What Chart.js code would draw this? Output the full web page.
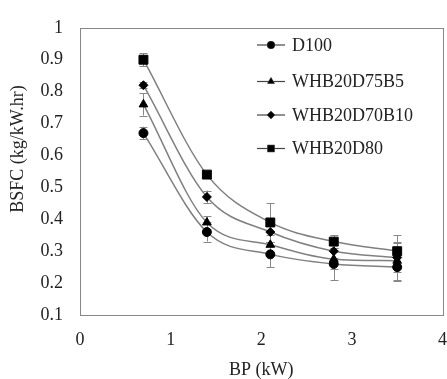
<!DOCTYPE html>
<html lang="en">
<head>
    <meta charset="UTF-8">
    <title>BSFC vs BP</title>
    <script src="https://cdn.jsdelivr.net/npm/chart.js"></script>
    <style>
        body {
            margin: 0;
            padding: 0;
            background: white;
            overflow: hidden;
        }
        #chart {
            display: block;
        }
    </style>
</head>
<body>
    <canvas id="chart" width="461" height="379"></canvas>

    <script>
        // brake power (kW)
        const bp = [0.7, 1.4, 2.1, 2.8, 3.5];

        // BSFC (kg/kW.hr) per fuel blend
        const d100     = [0.67, 0.36, 0.29, 0.26, 0.25];
        const whb75b5  = [0.76, 0.39, 0.32, 0.275, 0.27];
        const whb70b10 = [0.82, 0.47, 0.36, 0.30, 0.28];
        const whb80    = [0.90, 0.54, 0.39, 0.33, 0.30];

        // error bar half widths
        const d100Err     = [0.02, 0.03, 0.04, 0.05, 0.045];
        const whb75b5Err  = [0.035, 0.02, 0.03, 0.03, 0.06];
        const whb70b10Err = [0.01, 0.02, 0.03, 0.02, 0.045];
        const whb80Err    = [0.02, 0.01, 0.06, 0.02, 0.05];

        const seriesNames = ['D100', 'WHB20D75B5', 'WHB20D70B10', 'WHB20D80'];
        const xTicks = [0, 1, 2, 3, 4];
        const yTicks = [0.1, 0.2, 0.3, 0.4, 0.5, 0.6, 0.7, 0.8, 0.9, 1];

        const font = "'Liberation Serif', 'Times New Roman', serif";
        const textColor = '#222';
        const lineGrey = '#808080';

        function makeSet(label, values, errs, style, radius) {
            return {
                label: label,
                data: bp.map((x, i) => ({ x: x, y: values[i] })),
                errors: errs,
                borderColor: lineGrey,
                borderWidth: 1.5,
                backgroundColor: '#000',
                pointBackgroundColor: '#000',
                pointBorderColor: '#000',
                pointBorderWidth: 1,
                pointStyle: style,
                pointRadius: radius,
                cubicInterpolationMode: 'monotone',
                fill: false
            };
        }

        // frame round the plot area
        const framePlugin = {
            id: 'frame',
            beforeDatasetsDraw(chart) {
                const a = chart.chartArea;
                const ctx = chart.ctx;
                ctx.save();
                ctx.strokeStyle = '#888';
                ctx.lineWidth = 1;
                ctx.strokeRect(Math.round(a.left) + 0.5, Math.round(a.top) + 0.5,
                    Math.round(a.right - a.left), Math.round(a.bottom - a.top));
                ctx.restore();
            }
        };

        // vertical error bars with caps
        const errorBarPlugin = {
            id: 'errorBars',
            beforeDatasetsDraw(chart) {
                const ctx = chart.ctx;
                const xs = chart.scales.x, ys = chart.scales.y;
                ctx.save();
                ctx.strokeStyle = '#888';
                ctx.lineWidth = 1;
                chart.data.datasets.forEach(ds => {
                    ds.data.forEach((p, i) => {
                        const e = ds.errors[i];
                        const px = Math.round(xs.getPixelForValue(p.x)) + 0.5;
                        const top = ys.getPixelForValue(p.y + e);
                        const bot = ys.getPixelForValue(p.y - e);
                        ctx.beginPath();
                        ctx.moveTo(px, top);
                        ctx.lineTo(px, bot);
                        ctx.moveTo(px - 4, Math.round(top) + 0.5);
                        ctx.lineTo(px + 4, Math.round(top) + 0.5);
                        ctx.moveTo(px - 4, Math.round(bot) + 0.5);
                        ctx.lineTo(px + 4, Math.round(bot) + 0.5);
                        ctx.stroke();
                    });
                });
                ctx.restore();
            }
        };

        // legend inside the plot + y title placed like the original
        const legendPlugin = {
            id: 'insideLegend',
            afterDraw(chart) {
                const ctx = chart.ctx;
                ctx.save();
                ctx.font = '18px ' + font;
                ctx.fillStyle = textColor;
                ctx.textBaseline = 'middle';
                ctx.textAlign = 'left';
                const rowY = [45, 81.5, 115, 148.5];
                chart.data.datasets.forEach((ds, i) => {
                    const y = rowY[i];
                    ctx.strokeStyle = '#444';
                    ctx.lineWidth = 1.2;
                    ctx.beginPath();
                    ctx.moveTo(257, y);
                    ctx.lineTo(285, y);
                    ctx.stroke();
                    Chart.helpers.drawPoint(ctx, {
                        pointStyle: ds.pointStyle,
                        radius: ds.pointStyle === 'rect' ? 4.5 : 3.5,
                        rotation: 0,
                        borderWidth: 1
                    }, 271, y);
                    ctx.fillStyle = '#000';
                    ctx.fill();
                    ctx.fillStyle = textColor;
                    ctx.fillText(ds.label, 292, y + 1);
                });

                // y axis title
                ctx.translate(18, 149);
                ctx.rotate(-Math.PI / 2);
                ctx.textAlign = 'center';
                ctx.fillText('BSFC (kg/kW.hr)', 0, 0);
                ctx.restore();
            }
        };

        const ctx = document.getElementById('chart').getContext('2d');
        const chart = new Chart(ctx, {
            type: 'line',
            data: {
                datasets: [
                    makeSet(seriesNames[0], d100, d100Err, 'circle', 4.5),
                    makeSet(seriesNames[1], whb75b5, whb75b5Err, 'triangle', 5),
                    makeSet(seriesNames[2], whb70b10, whb70b10Err, 'rectRot', 4.5),
                    makeSet(seriesNames[3], whb80, whb80Err, 'rect', 6.3)
                ]
            },
            options: {
                responsive: false,
                animation: false,
                layout: { padding: { top: 18, left: 0, right: 0, bottom: 0 } },
                plugins: {
                    legend: { display: false },
                    tooltip: { enabled: false }
                },
                scales: {
                    x: {
                        type: 'linear',
                        min: 0,
                        max: 4,
                        afterFit(axis) { axis.height = 64; },
                        afterBuildTicks(axis) { axis.ticks = xTicks.map(v => ({ value: v })); },
                        grid: { display: false, drawTicks: false },
                        border: { display: false },
                        ticks: {
                            padding: 14,
                            color: textColor,
                            font: { family: font, size: 18 }
                        },
                        title: {
                            display: true,
                            text: 'BP (kW)',
                            color: textColor,
                            padding: { top: 0, bottom: 0 },
                            font: { family: font, size: 18, lineHeight: 1 }
                        }
                    },
                    y: {
                        min: 0.1,
                        max: 1,
                        afterFit(axis) { axis.width = 80; },
                        afterBuildTicks(axis) { axis.ticks = yTicks.map(v => ({ value: v })); },
                        grid: { display: false, drawTicks: false },
                        border: { display: false },
                        ticks: {
                            padding: 17,
                            color: textColor,
                            font: { family: font, size: 18 },
                            callback: v => String(Math.round(v * 10) / 10)
                        }
                    }
                }
            },
            plugins: [framePlugin, errorBarPlugin, legendPlugin]
        });
    </script>
</body>
</html>
